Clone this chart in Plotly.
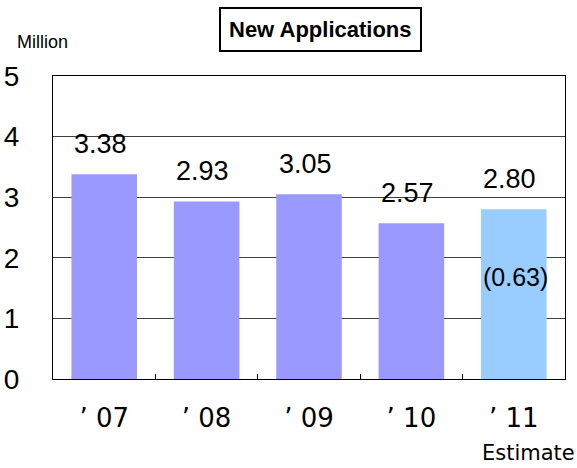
import plotly.graph_objects as go

categories = ["’ 07", "’ 08", "’ 09", "’ 10", "’ 11"]
values = [3.38, 2.93, 3.05, 2.57, 2.80]
value_labels = ["3.38", "2.93", "3.05", "2.57", "2.80"]
bar_colors = ["#9999FF", "#9999FF", "#9999FF", "#9999FF", "#99CCFF"]
sub_label = "(0.63)"
sub_label_index = 4
y_ticks = [0, 1, 2, 3, 4, 5]

FONT = "Liberation Sans"
WIDE = "DejaVu Sans"

fig = go.Figure()
fig.add_trace(go.Bar(
    x=categories, y=values,
    marker=dict(color=bar_colors, line=dict(width=0)),
    hoverinfo="skip",
))

for c, v, t in zip(categories, values, value_labels):
    fig.add_annotation(x=c, y=v, text=t, showarrow=False, yanchor="bottom",
                       yshift=13, xshift=-4,
                       font=dict(family=FONT, size=27, color="#000"))

fig.add_annotation(x=categories[sub_label_index], y=values[sub_label_index] * 0.6,
                   text=sub_label, showarrow=False, xshift=2,
                   font=dict(family=FONT, size=25, color="#000"))

fig.add_annotation(xref="paper", yref="paper", x=0.523, y=1.0, yshift=47,
                   yanchor="middle",
                   text="<b>New Applications</b>", showarrow=False,
                   font=dict(family=FONT, size=22, color="#000"),
                   bordercolor="#000", borderwidth=2, borderpad=8, bgcolor="#fff")

fig.add_annotation(xref="paper", yref="paper", x=-0.021, y=1.0, yshift=34,
                   yanchor="middle",
                   text="Million", showarrow=False, xanchor="center",
                   font=dict(family=FONT, size=18, color="#000"))

fig.add_annotation(xref="paper", yref="paper", x=1.0, y=0, yshift=-74,
                   yanchor="middle",
                   text="Estimate", showarrow=False, xanchor="right", xshift=12,
                   font=dict(family=WIDE, size=21, color="#000"))

fig.update_layout(
    width=577, height=468,
    margin=dict(l=53, r=12, t=76, b=89, autoexpand=False),
    paper_bgcolor="#fff", plot_bgcolor="#fff",
    bargap=0.36,
    showlegend=False,
    font=dict(family=FONT, color="#000"),
)
fig.update_xaxes(
    showline=True, linecolor="#000", linewidth=1, mirror=True,
    tickfont=dict(size=26, family=WIDE), ticks="inside", tickson="boundaries",
    ticklen=5, tickcolor="#000", showgrid=False, ticklabelstandoff=16,
    automargin=False,
)
fig.update_yaxes(
    range=[0, 5], tickvals=y_ticks, ticktext=[str(t) for t in y_ticks],
    showline=True, linecolor="#000", linewidth=1, mirror=True,
    showgrid=True, gridcolor="#404040", gridwidth=1,
    tickfont=dict(size=28, family=FONT), ticks="", ticklabelstandoff=27,
    zeroline=False, automargin=False,
)

fig.write_html("out.html", config={"displayModeBar": False},
               post_script="document.body.style.margin='0';")
